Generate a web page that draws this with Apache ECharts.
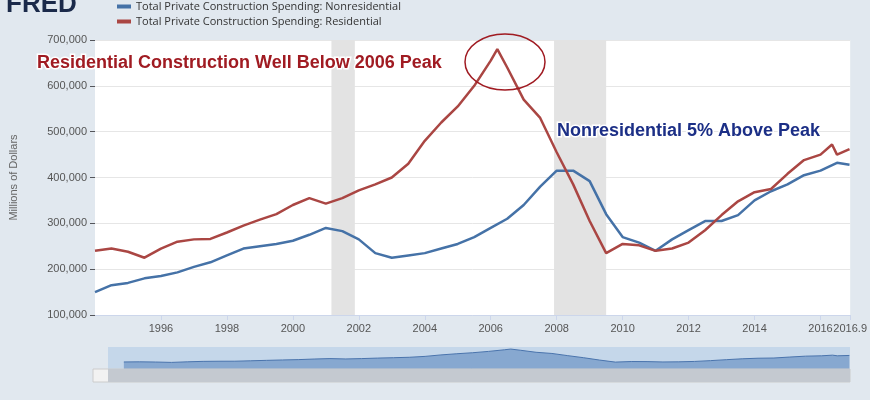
<!DOCTYPE html>
<html><head><meta charset="utf-8">
<script src="https://cdn.jsdelivr.net/npm/echarts@6/dist/echarts.min.js"></script>
<style>html,body{margin:0;background:#e1e8ef}#c{width:870px;height:400px}</style>
</head><body><div id="c"></div>
<script>
// 数据（千美元 -> 百万美元）
var resYears = [1994,1994.5,1995,1995.5,1996,1996.5,1997,1997.5,1998,1998.5,1999,1999.5,2000,2000.5,2001,2001.5,2002,2002.5,2003,2003.5,2004,2004.5,2005,2005.5,2006,2006.2,2006.5,2007,2007.5,2008,2008.5,2009,2009.5,2010,2010.5,2011,2011.5,2012,2012.5,2013,2013.5,2014,2014.5,2015,2015.5,2016,2016.35,2016.5,2016.88];
var resVals = [240,245,238,225,245,260,265,266,280,295,308,320,340,355,343,355,372,385,400,430,480,520,555,600,655,680,640,570,530,455,385,305,235,255,252,240,245,258,285,318,348,368,375,408,438,450,472,450,462];
var nonYears = [1994,1994.5,1995,1995.5,1996,1996.5,1997,1997.5,1998,1998.5,1999,1999.5,2000,2000.5,2001,2001.5,2002,2002.5,2003,2003.5,2004,2004.5,2005,2005.5,2006,2006.5,2007,2007.5,2008,2008.5,2009,2009.5,2010,2010.5,2011,2011.5,2012,2012.5,2013,2013.5,2014,2014.5,2015,2015.5,2016,2016.5,2016.88];
var nonVals = [150,165,170,180,185,193,205,215,230,245,250,255,262,275,290,283,265,235,225,230,235,245,255,270,290,310,340,380,415,415,392,320,270,258,240,265,285,305,305,318,350,370,385,405,415,432,428];
var recessions = [[2001.17,2001.88],[2007.92,2009.5]];

function pts(xs, vs) { return xs.map(function (x, i) { return [x, vs[i] * 1000]; }); }

var myChart = echarts.init(document.getElementById('c'));
var option = {
    backgroundColor: '#e1e8ef',
    animation: false,
    legend: {
        orient: 'vertical', left: 112, top: -4, itemWidth: 14, itemHeight: 4, itemGap: 4, icon: 'rect',
        textStyle: { fontSize: 11, color: '#333', fontFamily: 'Open Sans' },
        data: ['Total Private Construction Spending: Nonresidential', 'Total Private Construction Spending: Residential']
    },
    grid: [
        { left: 93, right: 5, top: 40, bottom: 85, backgroundColor: '#fff', show: true, borderWidth: 0 },
        { left: 108, right: 20, top: 347, height: 22, show: true, backgroundColor: '#c5d7ea', borderWidth: 0 }
    ],
    xAxis: [
        { type: 'value', min: 1994, max: 2016.9, interval: 2, gridIndex: 0,
          axisLabel: { showMinLabel: false, color: '#555', fontSize: 11, formatter: function (v) { return String(v); } },
          axisLine: { lineStyle: { color: '#ccd6eb' } }, axisTick: { show: true, lineStyle: { color: '#ccd6eb' } },
          splitLine: { show: false } },
        { type: 'value', min: 1993.5, max: 2016.9, gridIndex: 1, show: false }
    ],
    yAxis: [
        { type: 'value', min: 100000, max: 700000, interval: 100000, gridIndex: 0,
          name: 'Millions of Dollars', nameLocation: 'middle', nameGap: 76,
          nameTextStyle: { color: '#666', fontSize: 11 },
          axisLabel: { color: '#555', fontSize: 11, formatter: function (v) { return v.toLocaleString('en-US'); } },
          axisLine: { show: false }, splitLine: { lineStyle: { color: '#e6e6e6' } } },
        { type: 'value', min: 0, max: 750000, gridIndex: 1, show: false }
    ],
    series: [
        { name: 'Total Private Construction Spending: Nonresidential', type: 'line', data: pts(nonYears, nonVals),
          symbol: 'none', lineStyle: { color: '#4572a7', width: 2.5 }, itemStyle: { color: '#4572a7' },
          markArea: { silent: true, itemStyle: { color: '#e3e3e3' },
            data: recessions.map(function (r) { return [{ xAxis: r[0] }, { xAxis: r[1] }]; }) } },
        { name: 'Total Private Construction Spending: Residential', type: 'line', data: pts(resYears, resVals),
          symbol: 'none', lineStyle: { color: '#aa4643', width: 2.5 }, itemStyle: { color: '#aa4643' } },
        { type: 'line', xAxisIndex: 1, yAxisIndex: 1, data: pts(resYears, resVals), symbol: 'none',
          lineStyle: { color: '#4a74ad', width: 1 }, areaStyle: { color: '#87a8d0', opacity: 1 } }
    ],
    graphic: [
        { type: 'text', left: 6, top: -8, z: 100, style: { text: 'FRED', fontSize: 26, fontWeight: 'bold', fill: '#1b2a4a', fontFamily: 'Arial' } },
        { type: 'rect', z: 100, shape: { x: 93, y: 369, width: 757, height: 13 }, style: { fill: '#f2f2f2', stroke: '#ccc' } },
        { type: 'rect', z: 100, shape: { x: 108, y: 369, width: 742, height: 13 }, style: { fill: '#c4c9d0' } },
        { type: 'text', z: 100, x: 37, y: 63, style: { text: 'Residential Construction Well Below 2006 Peak', fontSize: 18, fontWeight: 'bold',
          fill: '#a01b22', stroke: '#fff', lineWidth: 3, fontFamily: 'Liberation Sans', verticalAlign: 'middle' } },
        { type: 'ellipse', z: 100, shape: { cx: 505, cy: 62, rx: 40, ry: 28 }, style: { fill: 'none', stroke: '#a01b22', lineWidth: 1.5 } },
        { type: 'text', z: 100, x: 557, y: 131, style: { text: 'Nonresidential 5% Above Peak', fontSize: 18, fontWeight: 'bold',
          fill: '#1c2f86', stroke: '#fff', lineWidth: 3, fontFamily: 'Liberation Sans', verticalAlign: 'middle' } }
    ]
};
myChart.setOption(option);
</script></body></html>
